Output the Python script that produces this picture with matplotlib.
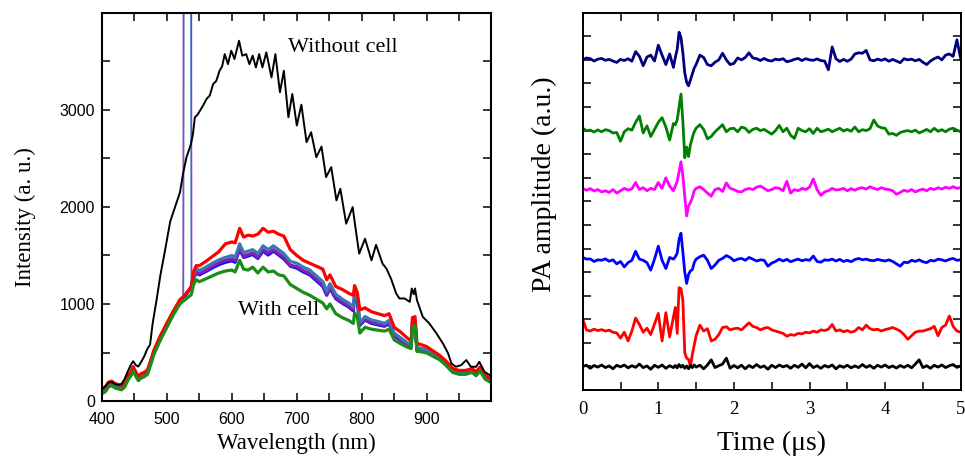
import numpy as np
import matplotlib
matplotlib.use("Agg")
import matplotlib.pyplot as plt
from matplotlib.ticker import MultipleLocator, FixedLocator, NullFormatter

# ---------------- Left panel data: spectra ----------------
wl_black = [400,405,410,415,420,425,430,435,440,445,448,452,456,460,465,470,474,478,484,490,
            497,505,510,515,520,525,530,537,540,543,547,551,556,561,566,571,576,581,585,589,
            594,599,604,611,616,622,627,632,637,642,647,653,661,667,674,680,687,693,700,707,
            715,722,730,738,745,753,761,767,776,786,790,796,805,815,822,832,838,845,853,858,
            866,874,877,880,882,885,894,904,915,925,933,938,945,953,961,968,976,981,989,997]
without_cell = [120,150,190,195,175,165,175,230,310,380,410,370,355,400,460,540,580,800,1040,1300,
                1550,1850,1950,2050,2150,2350,2510,2650,2750,2925,2950,2994,3050,3114,3150,3266,3300,3405,3450,3576,
                3473,3611,3526,3714,3560,3576,3473,3560,3439,3576,3439,3594,3336,3576,3182,3405,2925,3165,2840,3055,
                2668,2771,2513,2623,2308,2411,2068,2188,1828,1999,1800,1519,1673,1450,1610,1416,1365,1262,1108,1057,
                1057,1022,1160,1100,1160,1040,867,800,697,593,490,387,353,370,422,353,353,404,301,267]

wl_cell = [400,405,410,415,420,425,430,435,440,445,
           448,452,456,460,465,470,475,480,490,500,
           510,520,525,525.5,526.5,536.5,537.5,538,541,545,
           550,560,570,580,590,600,605,612,618,625,
           632,640,648,656,664,672,680,690,700,710,
           720,730,740,746,751,760,770,780,787,789,
           793,797,805,815,825,835,842,850,860,870,
           876,878,882,885,890,900,910,920,930,940,
           950,960,970,976,982,990,998]

cell_red = [125,145,195,205,180,170,160,190,260,310,
            355,300,255,280,295,320,420,525,675,805,
            930,1045,1075,1078,1085,1170,1185,1200,1330,1395,
            1395,1440,1490,1540,1620,1640,1630,1780,1690,1710,
            1700,1720,1780,1740,1750,1720,1700,1560,1500,1450,
            1420,1390,1360,1250,1300,1180,1150,1110,1090,1190,
            1120,940,960,920,900,880,900,760,710,650,
            620,860,870,590,585,560,515,470,410,335,
            315,315,335,300,350,265,230]
cell_green = [75,95,145,160,135,125,115,145,215,265,
              310,255,210,235,250,275,375,480,630,760,
              890,1000,1030,1032,1036,1090,1100,1110,1200,1250,
              1230,1260,1290,1320,1340,1350,1330,1450,1360,1350,
              1380,1320,1380,1330,1340,1300,1290,1200,1160,1120,
              1090,1050,1010,950,1000,900,860,830,800,910,
              870,700,760,740,730,720,740,630,590,555,
              540,770,780,510,510,495,460,425,365,295,
              275,275,295,260,310,225,195]
cell_blue = [98,118,168,182,157,147,137,167,237,287,
             332,277,232,257,272,297,397,507,657,787,
             912,1025,1055,1060,1065,1165,1175,1180,1265,1320,
             1300,1335,1372,1405,1430,1445,1430,1565,1480,1495,
             1510,1470,1545,1505,1545,1505,1465,1390,1370,1330,
             1300,1240,1180,1090,1160,1055,1008,968,930,1075,
             1035,780,835,800,785,770,795,672,625,578,
             558,785,800,522,522,508,470,432,372,305,
             285,285,305,270,320,236,202]
cell_purple = [95,115,165,180,155,145,135,165,235,285,
               330,275,230,255,270,295,395,505,655,785,
               910,1020,1050,6000,6000,6000,6000,1180,1270,1330,
               1315,1350,1390,1425,1450,1465,1450,1580,1495,1510,
               1525,1485,1560,1525,1560,1520,1480,1400,1385,1345,
               1315,1255,1195,1100,1175,1070,1020,980,945,1090,
               1050,790,845,810,795,778,805,680,632,585,
               565,795,810,530,530,515,478,440,380,312,
               292,292,312,278,327,243,208]
cell_steel = [100,120,170,185,160,150,140,170,240,290,
              335,280,235,260,275,300,400,510,660,790,
              915,1030,1060,1065,6000,6000,1180,1190,1300,1365,
              1345,1380,1420,1455,1480,1500,1480,1620,1530,1545,
              1560,1520,1600,1560,1600,1560,1520,1440,1420,1380,
              1350,1290,1230,1130,1210,1100,1050,1010,970,1120,
              1080,810,870,835,820,800,830,700,650,600,
              580,815,830,545,545,530,490,450,390,320,
              300,300,320,285,335,250,215]

wl_ticks = [400, 500, 600, 700, 800, 900]
int_ticks = [0, 1000, 2000, 3000]

# ---------------- Right panel data: PA traces ----------------
t = np.concatenate([np.arange(0, 1.2001, 0.05),
                    np.arange(1.225, 1.5001, 0.025),
                    np.arange(1.55, 5.0001, 0.05)])

pa_navy = [0.0,0.08,0.05,-0.05,0.03,0.06,-0.02,0.02,-0.05,-0.11,0.02,-0.03,0.05,-0.06,0.35,0.15,-0.25,0.12,0.2,-0.05,0.62,0.2,-0.2,0.25,-0.32,
           0.1,0.45,1.17,0.95,0.3,-0.55,-0.95,-1.1,-0.85,-0.6,-0.35,-0.2,
           0.2,0.1,-0.2,-0.25,-0.1,0.0,0.28,0.0,-0.2,-0.15,
           0.08,0.0,0.1,0.3,0.08,0.05,-0.03,0.06,-0.02,-0.05,
           0.03,0.0,0.05,-0.08,-0.04,0.02,0.06,-0.03,0.05,0.0,
           -0.02,0.04,-0.03,-0.05,-0.42,0.55,0.05,-0.07,0.02,-0.06,
           0.03,0.25,0.3,0.28,0.4,0.0,-0.04,0.03,-0.02,0.04,
           -0.06,0.02,-0.05,-0.12,0.05,0.0,0.03,-0.04,0.02,-0.1,
           -0.2,-0.05,0.05,0.12,0.0,0.2,0.25,0.15,0.85,0.05]
pa_green = [0.1,0.0,0.02,-0.06,0.03,-0.05,0.04,0.0,-0.1,-0.08,-0.45,-0.05,0.08,0.02,0.35,0.62,-0.1,0.2,-0.25,0.05,0.35,0.55,0.15,-0.4,0.3,
            0.25,0.45,1.0,1.55,0.4,-1.15,-0.7,-1.1,-0.6,-0.3,-0.05,0.1,
            0.25,0.05,-0.35,-0.25,-0.05,0.1,0.25,-0.05,0.08,0.1,
            -0.05,0.15,0.1,-0.08,0.05,0.1,0.0,0.05,-0.05,-0.15,
            0.0,0.22,-0.05,0.1,-0.2,-0.33,0.1,0.0,-0.05,0.08,
            -0.12,0.1,-0.05,0.0,0.06,-0.05,0.03,0.1,-0.02,0.05,
            -0.03,0.15,-0.05,0.04,0.0,0.08,0.45,0.2,0.12,0.1,
            -0.15,-0.12,-0.2,-0.08,-0.03,0.0,-0.05,0.02,-0.1,-0.03,
            0.05,-0.05,0.1,-0.03,0.04,-0.05,0.06,0.1,0.02,-0.05]
pa_magenta = [0.05,-0.03,0.04,-0.06,0.0,-0.1,-0.05,-0.12,0.0,-0.15,-0.05,0.05,-0.02,0.03,0.3,0.0,0.08,-0.05,0.05,0.0,0.3,0.05,0.5,0.15,-0.05,
              0.15,0.35,0.75,1.18,0.6,-0.3,-1.12,-0.7,-0.55,-0.35,-0.05,0.05,
              0.12,0.0,-0.15,-0.28,0.0,0.05,-0.08,0.28,0.05,0.0,
              -0.08,-0.1,0.0,0.05,0.0,0.1,0.15,0.05,-0.05,0.0,
              0.08,0.05,-0.05,0.35,-0.15,0.0,-0.05,0.05,0.0,0.1,
              0.45,0.0,-0.25,-0.1,-0.05,0.05,-0.02,0.0,0.05,-0.05,
              0.04,-0.03,0.05,0.08,0.02,0.12,0.05,0.0,0.08,0.02,
              0.0,-0.05,-0.2,-0.12,-0.03,-0.08,0.0,-0.1,-0.03,0.02,
              -0.05,0.05,0.0,0.08,0.02,0.1,0.05,0.12,0.05,0.08]
pa_blue = [0.12,0.05,0.06,-0.05,0.02,0.0,0.06,-0.04,0.02,-0.15,-0.05,-0.28,-0.1,0.0,0.38,0.05,0.0,-0.1,-0.42,0.05,0.6,0.0,-0.35,0.12,0.05,
           0.15,0.3,0.9,1.15,0.35,-0.5,-0.98,-0.6,-0.45,-0.4,-0.1,0.05,
           0.15,0.22,0.0,-0.35,-0.2,0.0,0.08,0.2,0.12,-0.02,
           0.05,0.08,0.0,0.12,0.05,-0.03,0.02,0.0,-0.25,-0.12,
           -0.05,0.05,-0.03,0.04,-0.06,0.0,0.05,-0.02,0.03,0.0,
           0.18,-0.05,-0.08,0.02,0.0,0.05,-0.03,0.04,-0.05,0.0,
           -0.06,0.03,0.08,0.02,0.05,0.0,-0.02,0.04,0.0,-0.03,
           0.02,-0.05,-0.15,-0.25,-0.08,-0.1,0.0,-0.05,0.02,-0.06,
           -0.1,0.0,-0.03,0.05,0.02,-0.03,0.04,0.08,0.0,0.02]
pa_red = [0.5,0.05,0.0,0.08,0.02,0.06,0.0,0.04,-0.05,-0.08,-0.3,-0.05,-0.42,0.0,0.55,0.28,-0.05,0.12,-0.15,0.3,0.75,-0.42,0.78,-0.25,0.6,
          1.0,-0.1,1.84,1.8,1.3,-0.92,-1.15,-1.2,-1.5,-1.0,-0.6,-0.2,
          0.25,0.0,0.1,-0.42,-0.35,-0.15,0.15,0.18,0.05,0.1,
          0.12,0.05,0.2,0.35,0.2,0.15,0.05,0.12,0.15,0.05,
          0.0,-0.05,-0.1,-0.22,-0.15,-0.18,-0.1,-0.12,-0.05,-0.08,
          0.0,-0.05,0.05,0.02,0.08,0.28,0.0,0.05,-0.03,0.02,
          -0.05,0.0,0.15,0.05,0.25,0.1,0.05,0.08,0.0,0.06,
          0.1,0.15,0.08,0.0,-0.15,-0.35,-0.2,-0.05,0.0,0.0,
          0.05,0.1,0.2,-0.2,0.15,0.25,0.64,0.2,0.0,-0.05]
pa_black = [0.0,0.05,-0.08,0.04,-0.03,0.06,-0.05,0.02,-0.1,0.05,-0.02,0.06,-0.06,0.03,-0.04,0.1,-0.05,0.02,-0.12,0.05,-0.04,0.06,-0.08,0.03,-0.05,
            0.04,-0.06,0.08,-0.03,0.05,-0.08,0.02,-0.1,0.04,-0.05,0.06,-0.03,
            0.05,-0.1,0.06,0.28,-0.05,0.03,0.1,0.35,-0.08,0.04,
            -0.06,0.05,-0.1,0.04,-0.05,0.08,-0.04,0.02,-0.12,0.05,
            -0.05,0.06,-0.02,0.04,-0.08,0.05,-0.04,0.1,-0.06,0.12,
            -0.05,0.03,-0.08,0.04,-0.03,0.06,-0.1,0.03,-0.04,0.05,
            -0.06,0.02,-0.05,0.08,-0.04,0.04,-0.08,0.05,-0.03,0.06,
            -0.05,0.02,-0.07,0.04,-0.04,0.05,-0.06,0.1,0.28,-0.05,
            0.03,-0.08,0.05,-0.03,0.06,-0.05,0.03,0.08,-0.04,0.02]
trace_offsets = [14.0, 11.0, 8.5, 5.5, 2.5, 1.0]
time_ticks = [0, 1, 2, 3, 4, 5]

# ---------------- Figure ----------------
W, H = 965, 459
fig = plt.figure(figsize=(W / 100, H / 100), dpi=100)
serif = ['Liberation Serif', 'DejaVu Serif']
sans = ['Liberation Sans', 'DejaVu Sans']

# Left axes
axL = fig.add_axes([102 / W, 1 - 401 / H, 389 / W, 388 / H])
axL.plot(wl_black, without_cell, color='black', lw=1.4, zorder=3)
for vals, col in [(cell_blue, '#1010ff'), (cell_purple, '#8a1ab0'),
                  (cell_steel, '#3a78b5'), (cell_red, '#ff0000'), (cell_green, '#1a8c1a')]:
    v = np.asarray(vals, dtype=float)
    # thin full trace (shows the saturated spike as thin lines), thick where on scale
    axL.plot(wl_cell, v, color=col, lw=1.0, zorder=2)
    axL.plot(wl_cell, np.where(v > 4000, np.nan, v), color=col, lw=2.3, zorder=2)
axL.set_xlim(400, 999)
axL.set_ylim(0, 4000)
axL.xaxis.set_major_locator(FixedLocator(wl_ticks))
axL.xaxis.set_minor_locator(MultipleLocator(50))
axL.yaxis.set_major_locator(FixedLocator(int_ticks))
axL.yaxis.set_minor_locator(MultipleLocator(500))
axL.tick_params(which='both', direction='in', top=True, right=True, length=6, width=1.1)
axL.tick_params(axis='x', pad=8)
axL.tick_params(axis='y', pad=5)
for lab in axL.get_xticklabels() + axL.get_yticklabels():
    lab.set_family(sans)
    lab.set_fontsize(11.5)
for s in axL.spines.values():
    s.set_linewidth(1.5)
axL.set_xlabel('Wavelength (nm)', family=serif, fontsize=16.5, va='top')
axL.xaxis.set_label_coords(0.5, -0.083)
axL.set_ylabel('Intensity (a. u.)', family=serif, fontsize=16.5)
axL.yaxis.set_label_coords(-0.17, 0.475)
axL.text(686, 3645, 'Without cell', family=serif, fontsize=16, ha='left', va='center')
axL.text(609, 936, 'With cell', family=serif, fontsize=16, ha='left', va='center')

# Right axes
axR = fig.add_axes([582.7 / W, 1 - 390 / H, 378 / W, 377.3 / H])
for vals, off, col in [(pa_navy, trace_offsets[0], '#000080'), (pa_green, trace_offsets[1], '#008000'),
                       (pa_magenta, trace_offsets[2], '#ff00ff'), (pa_blue, trace_offsets[3], '#0000ff'),
                       (pa_red, trace_offsets[4], '#ff0000'), (pa_black, trace_offsets[5], '#000000')]:
    axR.plot(t, np.asarray(vals) + off, color=col, lw=2.0)
axR.set_xlim(0, 5)
axR.set_ylim(0, 16)
axR.xaxis.set_major_locator(FixedLocator(time_ticks))
axR.xaxis.set_minor_locator(MultipleLocator(0.5))
axR.yaxis.set_major_locator(MultipleLocator(1))
axR.yaxis.set_major_formatter(NullFormatter())
axR.tick_params(which='both', direction='in', top=True, right=True, length=6, width=1.1)
axR.tick_params(axis='x', pad=8)
for lab in axR.get_xticklabels():
    lab.set_family(serif)
    lab.set_fontsize(13.5)
for s in axR.spines.values():
    s.set_linewidth(1.4)
axR.set_xlabel('Time (\u03bcs)', family=serif, fontsize=20, va='top')
axR.xaxis.set_label_coords(0.5, -0.108)
axR.set_ylabel('PA amplitude (a.u.)', family=serif, fontsize=20)
axR.yaxis.set_label_coords(-0.068, 0.545)

fig.savefig('out.png', dpi=100)
